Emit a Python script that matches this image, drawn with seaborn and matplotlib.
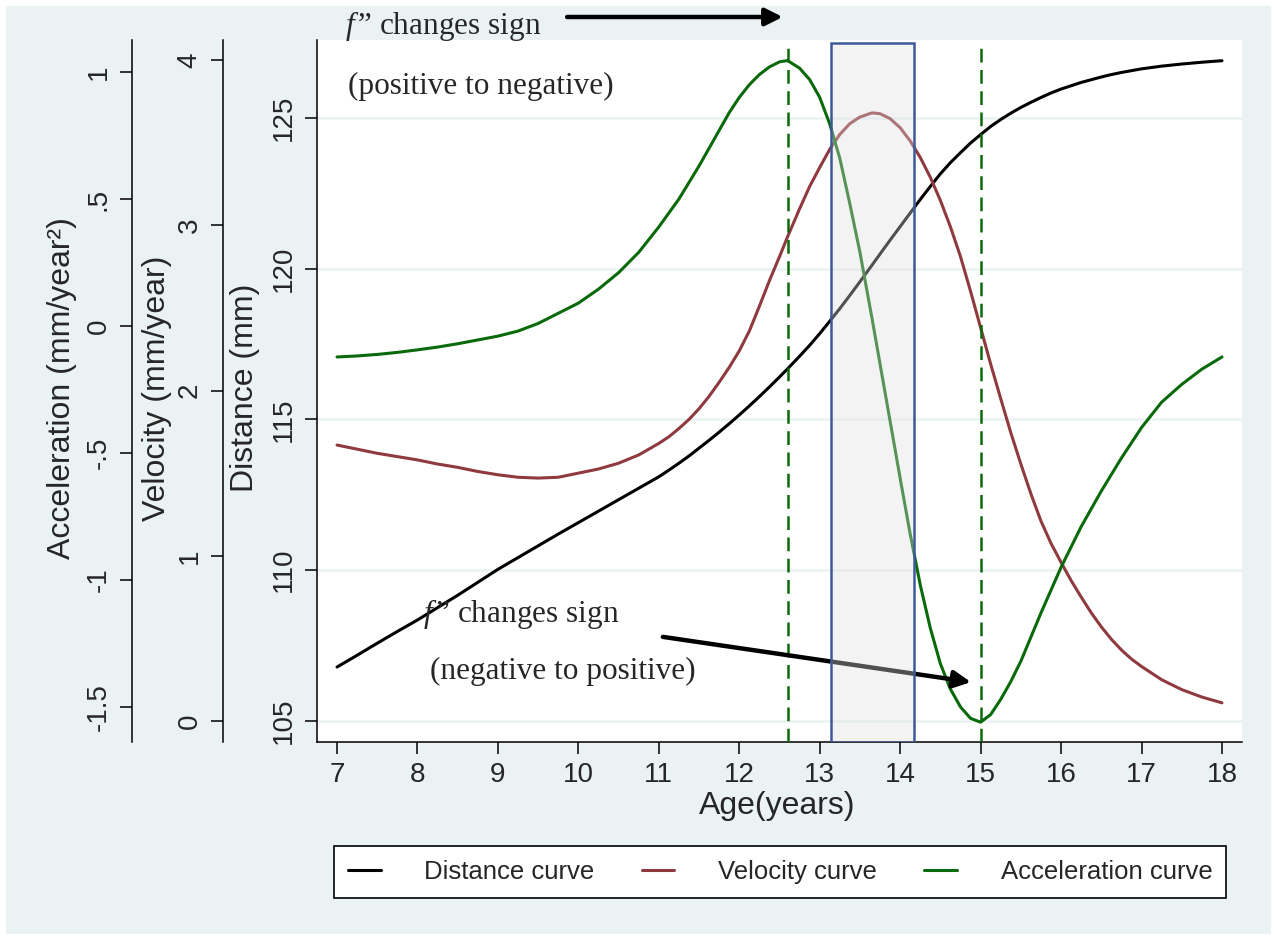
import matplotlib
matplotlib.use("Agg")
import matplotlib.pyplot as plt
import seaborn as sns
from matplotlib.lines import Line2D
from matplotlib.patches import Rectangle

# ---- growth curve values ----
age = [7.0, 7.25, 7.5, 7.75, 8.0, 8.25, 8.5, 8.75, 9.0, 9.25, 9.5, 9.75,
       10.0, 10.25, 10.5, 10.75,
       11.0, 11.125, 11.25, 11.375, 11.5, 11.625, 11.75, 11.875, 12.0,
       12.125, 12.25, 12.375, 12.5,
       12.6,
       12.75, 12.875, 13.0, 13.125, 13.25, 13.375, 13.5,
       13.65,
       13.75, 13.875, 14.0, 14.125, 14.25, 14.375, 14.5, 14.625, 14.75,
       14.875, 15.0, 15.125, 15.25, 15.375, 15.5, 15.625, 15.75, 15.875,
       16.0, 16.125, 16.25, 16.375, 16.5, 16.625, 16.75, 16.875, 17.0,
       17.25, 17.5, 17.75, 18.0]

distance = [106.79, 107.18, 107.58, 107.97, 108.35, 108.76, 109.17, 109.60,
            110.03, 110.42, 110.81, 111.20, 111.58, 111.96, 112.34, 112.72,
            113.10, 113.32, 113.55, 113.79, 114.05, 114.31, 114.58, 114.86,
            115.15, 115.45, 115.76, 116.08, 116.41,
            116.68,
            117.10, 117.46, 117.85, 118.26, 118.68, 119.12, 119.57,
            120.12,
            120.49, 120.95, 121.40, 121.85, 122.30, 122.73, 123.15, 123.52,
            123.85, 124.17, 124.45, 124.72, 124.95, 125.16, 125.35, 125.52,
            125.68, 125.83, 125.96, 126.07, 126.18, 126.27, 126.36, 126.44,
            126.51, 126.57, 126.63,
            126.72, 126.79, 126.85, 126.90]

velocity = [1.67, 1.645, 1.62, 1.60, 1.58, 1.555, 1.535, 1.51, 1.49, 1.475,
            1.47, 1.475, 1.50, 1.525, 1.56, 1.61,
            1.68, 1.72, 1.77, 1.825, 1.89, 1.965, 2.05, 2.14, 2.24, 2.36,
            2.51, 2.665, 2.81,
            2.93,
            3.10, 3.235, 3.35, 3.46, 3.55, 3.615, 3.655,
            3.68,
            3.675, 3.645, 3.59, 3.51, 3.41, 3.29, 3.15, 2.99, 2.81, 2.60,
            2.38, 2.16, 1.95, 1.745, 1.555, 1.375, 1.21, 1.075, 0.96, 0.85,
            0.75, 0.655, 0.57, 0.495, 0.43, 0.375, 0.33,
            0.25, 0.19, 0.145, 0.11]

acceleration = [-0.122, -0.118, -0.112, -0.104, -0.094, -0.083, -0.07,
                -0.055, -0.04, -0.02, 0.01, 0.05, 0.09, 0.145, 0.21, 0.29,
                0.39, 0.445, 0.50, 0.565, 0.63, 0.70, 0.77, 0.84, 0.90, 0.95,
                0.99, 1.02, 1.04,
                1.045,
                1.015, 0.97, 0.90, 0.795, 0.66, 0.48, 0.29,
                0.03,
                -0.15, -0.375, -0.60, -0.82, -1.02, -1.19, -1.33, -1.43,
                -1.50, -1.545, -1.56, -1.53, -1.47, -1.40, -1.32, -1.225,
                -1.13, -1.04, -0.95, -0.87, -0.79, -0.72, -0.65, -0.585,
                -0.52, -0.46, -0.40,
                -0.30, -0.23, -0.17, -0.122]

series_labels = ["Distance curve", "Velocity curve", "Acceleration curve"]
x_ticks = list(range(7, 19))
dist_ticks = [105, 110, 115, 120, 125]
vel_ticks = [0, 1, 2, 3, 4]
acc_ticks = [-1.5, -1, -0.5, 0, 0.5, 1]
acc_tick_labels = ["-1.5", "-1", "-.5", "0", ".5", "1"]

peak_age = 12.6       # acceleration maximum (f'' changes sign)
trough_age = 15.0     # acceleration minimum
window_start, window_end = 13.14, 14.17

# ---- style ----
sns.set_style("ticks")
plt.rcParams["font.family"] = ["Liberation Sans", "DejaVu Sans"]
plt.rcParams["mathtext.fontset"] = "custom"
plt.rcParams["mathtext.it"] = "Liberation Serif:italic"
plt.rcParams["mathtext.rm"] = "Liberation Serif"
plt.rcParams["lines.solid_joinstyle"] = "round"

BG = "#EAF2F3"
C_DIST = "#000000"
C_VEL = "#8F3A3F"
C_ACC = "#0A690A"
LW = 2.2
TICK_FS = 20
TITLE_FS = 23

W, H = 1277, 940
fig = plt.figure(figsize=(W / 100, H / 100), dpi=100)
fig.patch.set_facecolor("white")
fig.patches.append(Rectangle((6 / W, 6 / H), 1 - 12 / W, 1 - 12 / H,
                             transform=fig.transFigure, facecolor=BG,
                             edgecolor="none", zorder=-10))

ax = fig.add_axes([317 / W, (H - 742) / H, (1242 - 317) / W, (742 - 40) / H])
ax.set_facecolor("white")
ax_v = ax.twinx()
ax_a = ax.twinx()

sns.lineplot(x=age, y=distance, ax=ax, color=C_DIST, linewidth=LW, sort=True)
sns.lineplot(x=age, y=velocity, ax=ax_v, color=C_VEL, linewidth=LW, sort=True)
sns.lineplot(x=age, y=acceleration, ax=ax_a, color=C_ACC, linewidth=LW, sort=True)

ax.set_xlim(6.751, 18.249)
ax.set_ylim(104.303, 127.587)
ax_v.set_ylim(-0.127, 4.121)
ax_a.set_ylim(-1.638, 1.126)

# gridlines on the distance scale
ax.grid(axis="y", color=BG, linewidth=1.8)
ax.grid(axis="x", visible=False)
ax.set_axisbelow(True)

# x axis
ax.set_xticks(x_ticks)
ax.set_xticklabels([str(t) for t in x_ticks])
ax.tick_params(axis="x", length=8.6, width=1.1, labelsize=TICK_FS, pad=6,
               direction="out", color="black")
ax.set_xlabel("Age(years)", fontsize=TITLE_FS, va="center")
ax.xaxis.set_label_coords(0.498, -0.091)

# three stacked y axes on the left
axis_specs = [
    (ax, 0, dist_ticks, [str(t) for t in dist_ticks], "Distance (mm)", -0.0778),
    (ax_v, 67.7, vel_ticks, [str(t) for t in vel_ticks], "Velocity (mm/year)", -0.173),
    (ax_a, 133.2, acc_ticks, acc_tick_labels, "Acceleration (mm/year\u00b2)", -0.2757),
]
for a, offset, ticks, labels, title, lx in axis_specs:
    for side in ("top", "right"):
        a.spines[side].set_visible(False)
    if a is not ax:
        a.spines["bottom"].set_visible(False)
        a.patch.set_visible(False)
        a.yaxis.tick_left()
        a.yaxis.set_label_position("left")
        a.spines["left"].set_visible(True)
        a.spines["left"].set_position(("outward", offset))
        a.xaxis.set_visible(False)
    a.spines["left"].set_linewidth(1.1)
    a.spines["left"].set_color("black")
    a.spines["bottom"].set_linewidth(1.1)
    a.spines["bottom"].set_color("black")
    a.set_yticks(ticks)
    a.set_yticklabels(labels)
    a.tick_params(axis="y", length=8.6, width=1.1, labelsize=TICK_FS,
                  labelrotation=90, pad=6, direction="out", color="black")
    for lab in a.get_yticklabels():
        lab.set_va("center")
    a.set_ylabel(title, fontsize=TITLE_FS, va="center")
    a.yaxis.set_label_coords(lx, 0.504)

# vertical markers at the acceleration extremes
for xv in (peak_age, trough_age):
    ax_a.axvline(xv, ymin=0, ymax=0.992, color=C_ACC, linewidth=1.8,
                 dashes=(5.5, 3.0), zorder=4)

# annotations (positioned on the distance scale)
serif = {"family": ["Liberation Serif", "DejaVu Serif"], "size": 22.5}
f_label = "$f\\,$\u201d changes sign"
ax_a.text(7.10, 128.05, f_label, transform=ax.transData,
          ha="left", va="center", fontdict=serif, clip_on=False)
ax_a.text(7.14, 126.03, "(positive to negative)", transform=ax.transData,
          ha="left", va="center", fontdict=serif)
ax_a.text(8.07, 108.55, f_label, transform=ax.transData,
          ha="left", va="center", fontdict=serif)
ax_a.text(8.16, 106.63, "(negative to positive)", transform=ax.transData,
          ha="left", va="center", fontdict=serif)

arrow = dict(arrowstyle="-|>", lw=3.2, color="black", mutation_scale=26,
             shrinkA=0, shrinkB=0)
ax_a.annotate("", xy=(12.54, 128.35), xytext=(9.86, 128.35),
              xycoords=ax.transData, textcoords=ax.transData,
              arrowprops=arrow, annotation_clip=False, zorder=5)
ax_a.annotate("", xy=(14.88, 106.29), xytext=(11.05, 107.79),
              xycoords=ax.transData, textcoords=ax.transData,
              arrowprops=arrow, annotation_clip=False, zorder=5)

# highlighted window: translucent grey box above the curves
ax_a.axvspan(window_start, window_end, ymin=0, ymax=0.996,
             facecolor=(0.878, 0.878, 0.878, 0.36), edgecolor="#3C5A9A",
             linewidth=1.8, zorder=10)

# legend
handles = [Line2D([], [], color=c, linewidth=LW) for c in (C_DIST, C_VEL, C_ACC)]
leg = fig.legend(handles, series_labels, loc="center",
                 bbox_to_anchor=(780 / W, 1 - 872 / H), ncol=3, fontsize=18.5,
                 frameon=True, fancybox=False, edgecolor="black", framealpha=1,
                 handlelength=1.28, handletextpad=1.7, columnspacing=1.83,
                 borderpad=0.55)
leg.get_frame().set_linewidth(1.2)

fig.savefig("out.png", dpi=100, facecolor=fig.get_facecolor())
